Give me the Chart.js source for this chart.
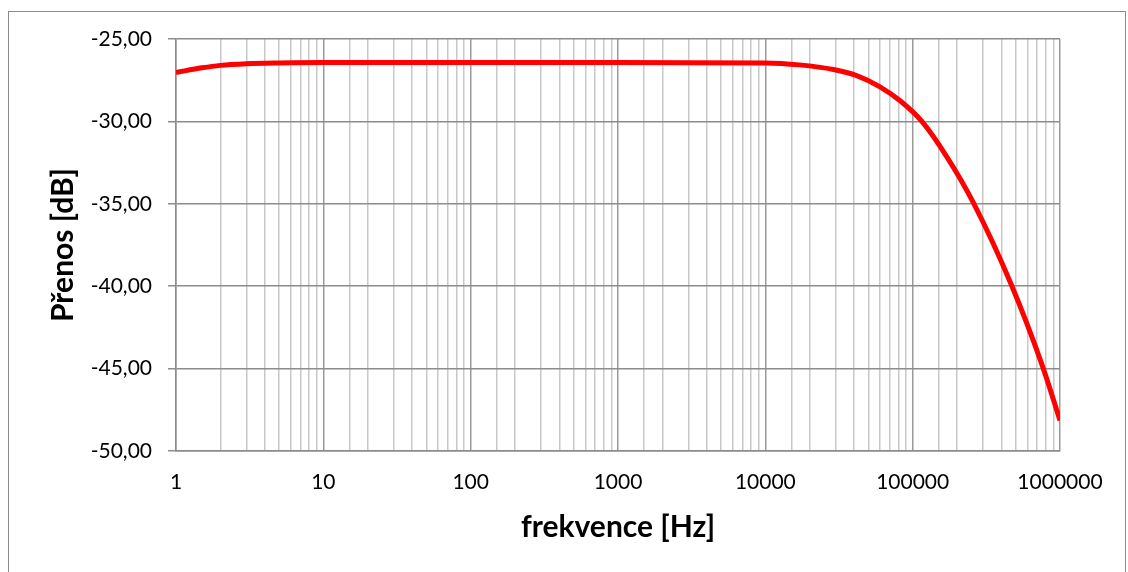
<!DOCTYPE html>
<html>
<head>
<meta charset="utf-8">
<script src="https://cdn.jsdelivr.net/npm/chart.js@4"></script>
<style>
  html, body { margin: 0; padding: 0; background: #fff; }
  #wrap { position: absolute; left: 0; top: 0; width: 1128px; height: 572px; }
  #frame { position: absolute; left: 8px; top: 11px; width: 1118px; height: 600px; border: 1px solid #8c8c8c; box-sizing: border-box; }
</style>
</head>
<body>
<div id="frame"></div>
<div id="wrap"><canvas id="chart" width="1128" height="572"></canvas></div>
<script>
// frequency [Hz] and transfer [dB]
const frequencies = [1, 1.5, 2, 3, 5, 10, 100, 1000, 10000, 17000, 29000, 41700, 60000, 82200,
    115500, 170600, 257000, 466700, 760300, 1000000];
const gainDb = [-27.03, -26.75, -26.6, -26.5, -26.45, -26.42, -26.42, -26.42, -26.45, -26.57, -26.85, -27.22, -27.9, -28.75,
    -30.0, -32.15, -34.9, -39.9, -44.85, -48.15];
const yTicks = [-50, -45, -40, -35, -30, -25];
const xLabel = 'frekvence [Hz]';
const yLabel = 'Přenos [dB]';

const FONT = 'Lato, "Open Sans", sans-serif';

const isDecade = v => Math.abs(Math.log10(v) - Math.round(Math.log10(v))) < 1e-9;

const points = frequencies.map((f, i) => ({x: f, y: gainDb[i]}));

new Chart(document.getElementById('chart'), {
    type: 'line',
    data: {
        datasets: [{
            data: points,
            borderColor: '#ff0000',
            borderWidth: 5,
            pointRadius: 0,
            fill: false,
            cubicInterpolationMode: 'monotone'
        }]
    },
    options: {
        responsive: false,
        animation: false,
        events: [],
        layout: {padding: {top: 39, right: 68, left: 0, bottom: 0}},
        plugins: {legend: {display: false}, tooltip: {enabled: false}},
        scales: {
            x: {
                type: 'logarithmic',
                min: 1,
                max: 1000000,
                afterFit: s => { s.height = 121; },
                border: {color: '#8c8c8c', width: 1.5},
                grid: {
                    drawTicks: false,
                    color: ctx => (ctx.tick && isDecade(ctx.tick.value)) ? '#9a9a9a' : '#c8c8c8',
                    lineWidth: 1.5
                },
                ticks: {
                    autoSkip: false,
                    maxRotation: 0,
                    padding: 19,
                    color: '#000',
                    font: {family: FONT, size: 21},
                    callback: v => isDecade(v) ? String(Math.round(v)) : ''
                },
                title: {
                    display: true,
                    text: xLabel,
                    color: '#000',
                    font: {family: FONT, size: 30, weight: 'bold'},
                    padding: {top: 0, bottom: 27}
                }
            },
            y: {
                min: -50,
                max: -25,
                afterFit: s => { s.width = 176; },
                afterBuildTicks: s => { s.ticks = yTicks.map(v => ({value: v})); },
                border: {color: '#8c8c8c', width: 1.5},
                grid: {color: '#8c8c8c', lineWidth: 1.5, tickLength: 8},
                ticks: {
                    padding: 16,
                    color: '#000',
                    font: {family: FONT, size: 21},
                    callback: v => v.toFixed(2).replace('.', ',')
                },
                title: {
                    display: true,
                    text: yLabel,
                    color: '#000',
                    font: {family: FONT, size: 30, weight: 'bold'},
                    padding: {top: 45, bottom: 0}
                }
            }
        }
    }
});
</script>
</body>
</html>
